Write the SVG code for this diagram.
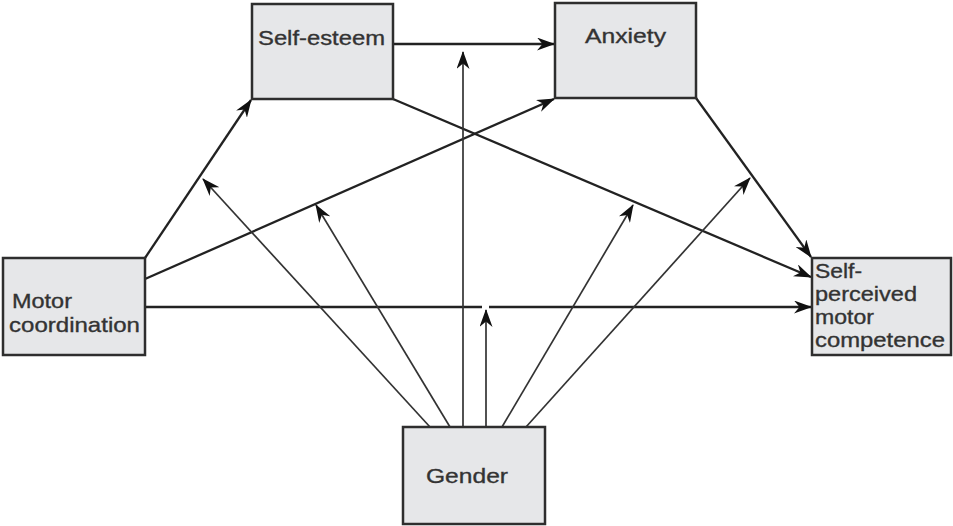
<svg xmlns="http://www.w3.org/2000/svg" width="953" height="526" viewBox="0 0 953 526">
<style>
.box{fill:#e6e7e9;stroke:#2e2e2e;stroke-width:2.5}
.t{font-family:"Liberation Sans",Arial,sans-serif;font-size:21px;fill:#333;stroke:#333;stroke-width:0.35}
.main{stroke:#222;stroke-width:2.3;fill:none;marker-end:url(#ah)}
.g{stroke:#333;stroke-width:1.7;fill:none;marker-end:url(#ah)}
.plain{stroke:#222;stroke-width:2.3;fill:none}
</style>
<defs>
<marker id="ah" viewBox="0 0 18 13" refX="17" refY="6.5" markerWidth="18" markerHeight="13" markerUnits="userSpaceOnUse" orient="auto">
<path d="M0,0 L18,6.5 L0,13 L5.5,6.5 Z" fill="#111"/>
</marker>
</defs>
<rect width="953" height="526" fill="#fff"/>
<g id="connectors">
<line class="main" x1="393" y1="44" x2="554" y2="44"/>
<line class="main" x1="145" y1="258" x2="251" y2="100"/>
<line class="main" x1="145" y1="279" x2="554" y2="99"/>
<line class="plain" x1="145" y1="307" x2="482" y2="307"/>
<line class="main" x1="489" y1="307" x2="811" y2="307"/>
<line class="main" x1="393" y1="99" x2="811" y2="277"/>
<line class="main" x1="696" y1="98" x2="811" y2="257"/>
<line class="g" x1="430" y1="427" x2="203" y2="179"/>
<line class="g" x1="450" y1="427" x2="316" y2="205"/>
<line class="g" x1="463" y1="427" x2="463" y2="52"/>
<line class="g" x1="486" y1="427" x2="486" y2="310"/>
<line class="g" x1="502" y1="427" x2="633" y2="205"/>
<line class="g" x1="526" y1="427" x2="750" y2="178"/>
</g>
<g id="self-esteem">
<rect class="box" x="252" y="4" width="141" height="95"/>
<text class="t" x="258" y="45" textLength="127" lengthAdjust="spacingAndGlyphs">Self-esteem</text>
</g>
<g id="anxiety">
<rect class="box" x="555" y="3" width="141" height="95"/>
<text class="t" x="585" y="43" textLength="81" lengthAdjust="spacingAndGlyphs">Anxiety</text>
</g>
<g id="motor-coordination">
<rect class="box" x="3" y="258" width="142" height="97"/>
<text class="t" x="12" y="308" textLength="60" lengthAdjust="spacingAndGlyphs">Motor</text>
<text class="t" x="9" y="332" textLength="131" lengthAdjust="spacingAndGlyphs">coordination</text>
</g>
<g id="self-perceived-motor-competence">
<rect class="box" x="812" y="258" width="139" height="97"/>
<text class="t" x="815" y="278" textLength="47" lengthAdjust="spacingAndGlyphs">Self-</text>
<text class="t" x="815" y="301" textLength="102" lengthAdjust="spacingAndGlyphs">perceived</text>
<text class="t" x="815" y="324" textLength="59" lengthAdjust="spacingAndGlyphs">motor</text>
<text class="t" x="815" y="347" textLength="130" lengthAdjust="spacingAndGlyphs">competence</text>
</g>
<g id="gender">
<rect class="box" x="403" y="427" width="142" height="97"/>
<text class="t" x="426" y="483" textLength="82" lengthAdjust="spacingAndGlyphs">Gender</text>
</g>
</svg>
